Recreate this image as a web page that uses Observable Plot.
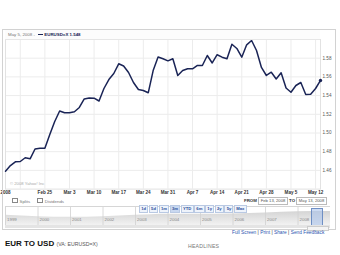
<!DOCTYPE html>
<html>
<head>
<meta charset="utf-8">
<script src="https://cdn.jsdelivr.net/npm/d3@7"></script>
<script src="https://cdn.jsdelivr.net/npm/@observablehq/plot@0.6"></script>
<style>
  html, body { margin: 0; padding: 0; background: #fff; }
  body { width: 340px; height: 255px; overflow: hidden; position: relative; font-family: "Liberation Sans", Arial, sans-serif; }
  .abs { position: absolute; white-space: nowrap; line-height: 1; }
  #chart, #nav { position: absolute; left: 0; top: 0; }
  #nav { left: 5px; top: 206px; }
  .btn { display: inline-block; border: 1px solid #b9c9e3; background: #eef3fb; color: #2a4f9a; font-size: 4.2px; padding: 1px 1.2px; margin-right: 0.6px; font-weight: bold; }
  .btn.sel { background: #c9d8f0; }
  .inp { display: inline-block; border: 1px solid #bbb; color: #555; font-size: 4.2px; padding: 1px 1.5px; }
  .cb { display: inline-block; width: 3.5px; height: 3.5px; border: 0.8px solid #888; vertical-align: -0.5px; margin-right: 2px; background: #fff; }
</style>
</head>
<body>
<svg width="0" height="0" style="position:absolute">
  <defs>
    <linearGradient id="navGrad" x1="0" y1="0" x2="0" y2="1">
      <stop offset="0%" stop-color="#d4d4d4"/>
      <stop offset="100%" stop-color="#f2f2f2"/>
    </linearGradient>
  </defs>
</svg>
<div id="chart"></div>
<div id="nav"></div>
<script>
// ---- data (EUR/USD daily close, trading days) ----
const rates = [
  1.4592, 1.4652, 1.4692, 1.4695, 1.4735, 1.4724, 1.4829, 1.4837, 1.4837, 1.4984,
  1.5123, 1.5235, 1.5216, 1.5216, 1.5227, 1.5273, 1.5364, 1.5374, 1.5372, 1.5342,
  1.5476, 1.5572, 1.5636, 1.5740, 1.5717, 1.5647, 1.5540, 1.5465, 1.5455, 1.5430,
  1.5668, 1.5813, 1.5794, 1.5772, 1.5794, 1.5615, 1.5668, 1.5687, 1.5687, 1.5722,
  1.5722, 1.5829, 1.5749, 1.5837, 1.5811, 1.5794, 1.5949, 1.5904, 1.5811, 1.5943,
  1.5989, 1.5882, 1.5701, 1.5615, 1.5650, 1.5578, 1.5644, 1.5481, 1.5436, 1.5508,
  1.5540, 1.5412, 1.5415, 1.5476, 1.5562
];
const xTickPos = [0, 8, 13, 18, 23, 28, 33, 38, 43, 48, 53, 58, 63];
const xTickLabels = ["2008", "Feb 25", "Mar 3", "Mar 10", "Mar 17", "Mar 24", "Mar 31", "Apr 7", "Apr 14", "Apr 21", "Apr 28", "May 5", "May 12"];
const xGridPos = [3, 8, 13, 18, 23, 28, 33, 38, 43, 48, 53, 58, 63];
const yTicks = [1.46, 1.48, 1.50, 1.52, 1.54, 1.56, 1.58];
const yGrid = [1.46, 1.48, 1.50, 1.52, 1.54, 1.56, 1.58, 1.60];

// navigator (overview) strip
const navYears = ["1999", "2000", "2001", "2002", "2003", "2004", "2005", "2006", "2007", "2008"];
const navValues = [1.12, 0.98, 0.90, 0.96, 1.12, 1.24, 1.24, 1.26, 1.37, 1.52, 1.56];

const pts = rates.map((v, i) => ({i, v}));
const labelOf = new Map(xTickPos.map((p, k) => [p, xTickLabels[k]]));

const chart = Plot.plot({
  width: 340,
  height: 200,
  marginLeft: 5,
  marginRight: 20,
  marginTop: 39,
  marginBottom: 11.4,
  style: {background: "transparent", fontFamily: "Liberation Sans, Arial, sans-serif"},
  x: {domain: [0, 64], axis: null},
  y: {domain: [1.44, 1.60], axis: null},
  marks: [
    Plot.ruleY(yGrid, {stroke: "#ececec", strokeWidth: 1}),
    Plot.ruleX(xGridPos, {stroke: "#ececec", strokeWidth: 1}),
    Plot.frame({stroke: "#e2e2e2"}),
    Plot.lineY(pts, {x: "i", y: "v", stroke: "#1a2456", strokeWidth: 1.5, strokeLinejoin: "round"}),
    Plot.dot(pts.slice(-1), {x: "i", y: "v", r: 1.7, fill: "#1a2456", stroke: "none"}),
    Plot.axisY({anchor: "right", ticks: yTicks, tickSize: 0, tickPadding: 2, tickFormat: d3.format(".2f"), fontSize: 4.6, fill: "#555", label: null}),
    Plot.axisX({anchor: "bottom", ticks: xTickPos, tickSize: 0, tickPadding: 1.5, tickFormat: d => labelOf.get(d), fontSize: 4.6, fontWeight: "bold", fill: "#333", label: null})
  ]
});
document.getElementById("chart").appendChild(chart);

const nav = Plot.plot({
  width: 325,
  height: 19,
  margin: 0,
  style: {background: "transparent", fontFamily: "Liberation Sans, Arial, sans-serif"},
  x: {domain: [0, 10], axis: null},
  y: {domain: [0, 2.1], axis: null},
  marks: [
    Plot.areaY(navValues.map((v, i) => ({i, v})), {x: "i", y: "v", fill: "url(#navGrad)", curve: "monotone-x"}),
    Plot.ruleX(navYears.map((y, i) => i), {stroke: "#d0d0d0", strokeWidth: 0.8}),
    Plot.text(navYears.map((y, i) => ({i, y})), {x: d => d.i, y: 0.7, text: "y", dx: 1.5, textAnchor: "start", fontSize: 4.4, fill: "#888"}),
    Plot.frame({stroke: "#d6d6d6"})
  ]
});
document.getElementById("nav").appendChild(nav);
</script>

<!-- outer chart box -->
<div class="abs" style="left:2px;top:29px;width:332px;height:199px;border:1px solid #d2d2d2;"></div>
<!-- header strip -->
<div class="abs" style="left:5px;top:30px;width:315px;height:9px;background:#fcfcfc;border-bottom:1px solid #e6e6e6;"></div>
<div class="abs" style="left:8px;top:33px;font-size:4.4px;color:#777;">May 5, 2008 - <span style="display:inline-block;width:5px;height:1.4px;background:#1a2456;vertical-align:1px;margin-left:2px;"></span><span style="color:#1a2456;font-weight:bold;"> EURUSD=X 1.548</span></div>
<!-- copyright -->
<div class="abs" style="left:10px;top:182px;font-size:4.2px;color:#aaa;">© 2008 Yahoo! Inc</div>
<!-- checkboxes -->
<div class="abs" style="left:12px;top:197.5px;font-size:4.4px;color:#777;"><span class="cb"></span>Splits<span style="display:inline-block;width:7px"></span><span class="cb"></span>Dividends</div>
<!-- range buttons -->
<div class="abs" style="left:139px;top:196.5px;"><span class="btn">1d</span><span class="btn">5d</span><span class="btn">1m</span><span class="btn sel">3m</span><span class="btn">YTD</span><span class="btn">6m</span><span class="btn">1y</span><span class="btn">2y</span><span class="btn">5y</span><span class="btn">Max</span></div>
<div class="abs" style="left:244px;top:196.5px;font-size:4.4px;color:#333;"><b style="display:inline-block;margin-top:1.5px">FROM</b> <span class="inp">Feb 13, 2008</span> <b>TO</b> <span class="inp">May 13, 2008</span></div>
<!-- navigator selection -->
<div class="abs" style="left:311px;top:208px;width:10px;height:17px;background:rgba(170,195,235,0.6);border:1px solid #6f8fc4;"></div>
<div class="abs" style="left:5px;top:225px;width:325px;height:3px;background:#e4e4e4;"></div>
<div class="abs" style="left:307px;top:226px;width:20px;height:3px;background:#f4f4f4;border:1px solid #ccc;"></div>
<!-- bottom texts -->
<div class="abs" style="left:232px;top:231px;font-size:4.8px;color:#2a55b0;">Full Screen <span style="color:#333">|</span> Print <span style="color:#333">|</span> Share <span style="color:#333">|</span> Send Feedback</div>
<div class="abs" style="left:5px;top:240px;font-size:8px;font-weight:bold;color:#111;">EUR TO USD <span style="font-size:5.2px;font-weight:normal;color:#555;">(VA: EURUSD=X)</span></div>
<div class="abs" style="left:188px;top:244px;font-size:5.2px;color:#777;letter-spacing:0.2px;">HEADLINES</div>
</body>
</html>
